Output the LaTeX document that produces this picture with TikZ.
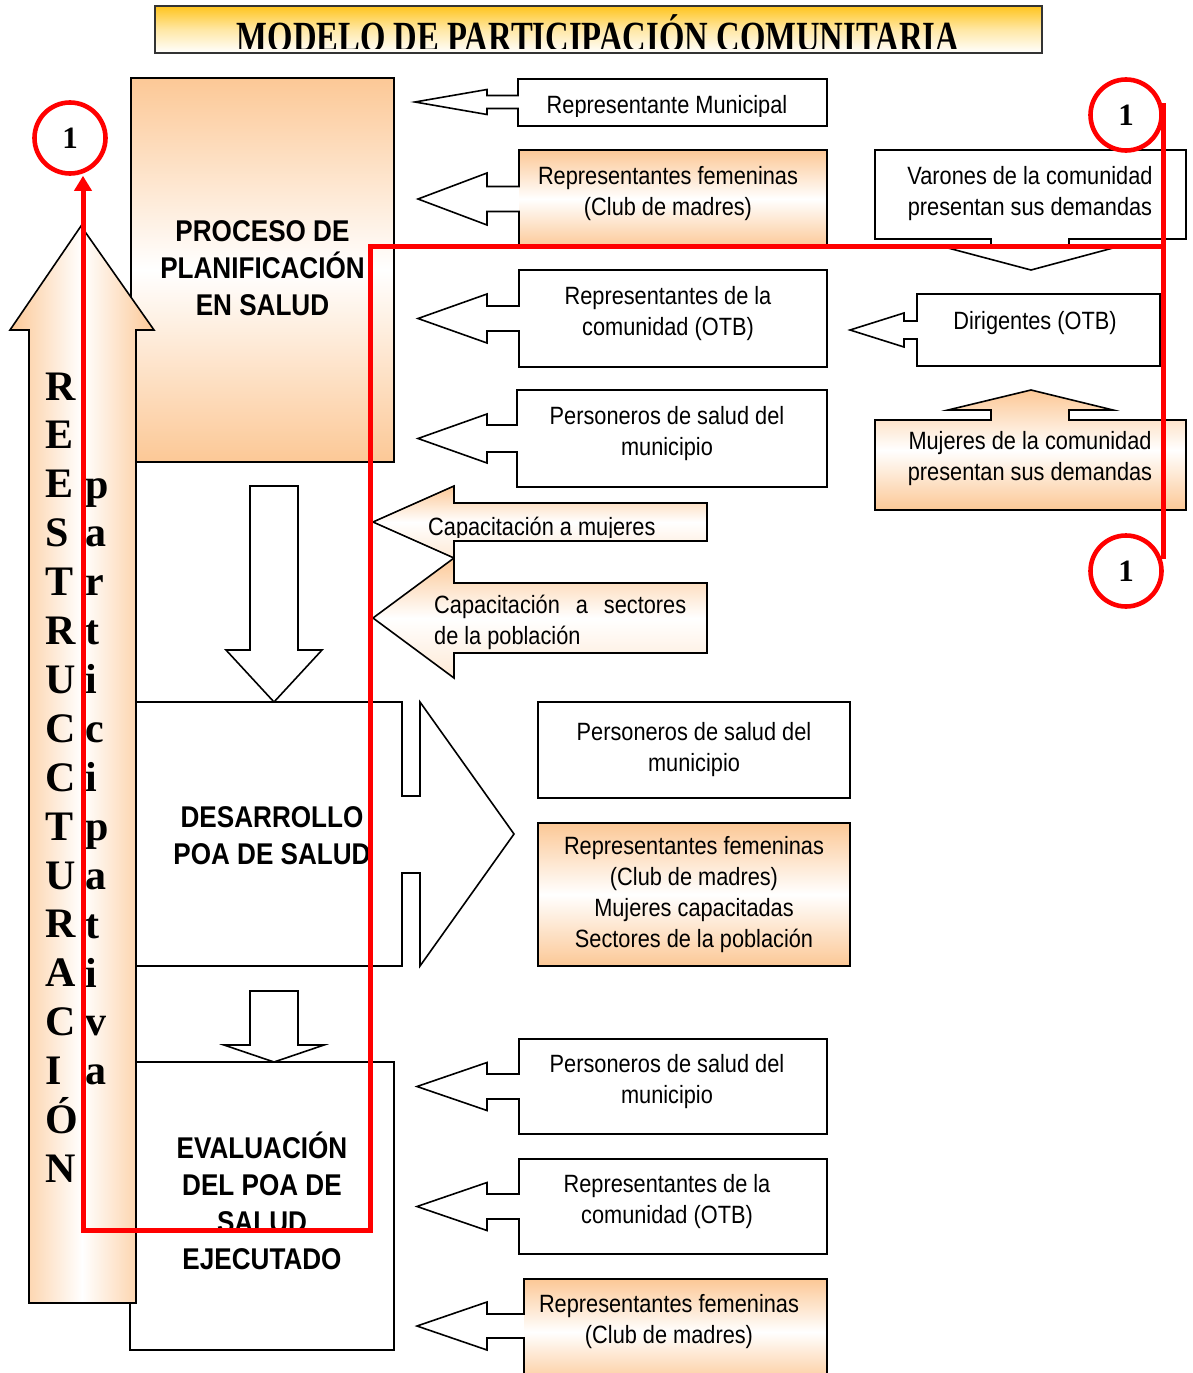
\documentclass[tikz,border=0pt]{standalone}
\usepackage{fontspec}
\usetikzlibrary{arrows.meta}
\newfontfamily\nar[FakeStretch=0.87]{Liberation Sans}
\newfontfamily\ser{Liberation Serif}
\newfontfamily\ttl[FakeStretch=0.76]{Liberation Serif}
\definecolor{peach}{RGB}{252,200,150}
\definecolor{gold}{RGB}{255,196,30}
\definecolor{redl}{RGB}{255,0,0}
\tikzset{
  outl/.style={draw=black, line width=1.6pt, line join=miter},
  lbl/.style={font=\nar\fontsize{25}{31}\selectfont, align=center, inner sep=0pt},
  bl/.style={font=\nar\bfseries\fontsize{30}{37}\selectfont, align=center, inner sep=0pt},
  vl/.style={font=\ser\bfseries\fontsize{42}{42}\selectfont, inner sep=0pt, anchor=base west},
  circ/.style={circle, draw=redl, line width=4.6pt, minimum size=71pt, inner sep=0pt, font=\ser\bfseries\fontsize{31}{31}\selectfont},
  redline/.style={draw=redl, line width=5pt},
  peachv/.style={top color=peach, bottom color=peach, middle color=white},
  cfill/.style={fill=white}
}
% callout: #1 tip x, #2 head back x, #3 box left, #4 box right, #5 top, #6 bottom, #7 centre y, #8 head half, #9 shaft half
\newcommand\callout[9]{%
  \fill[white] (#4,#5) -- ({#3+1.5},#5) -- ({#3+1.5},{#7-#9}) -- (#2,{#7-#9}) -- (#2,{#7-#8}) -- (#1,#7) -- (#2,{#7+#8}) -- (#2,{#7+#9}) -- ({#3+1.5},{#7+#9}) -- ({#3+1.5},#6) -- (#4,#6) -- cycle;
  \path[cfill] (#3,#5) rectangle (#4,#6);
  \draw[outl] (#4,#5) -- (#3,#5) -- (#3,{#7-#9}) -- (#2,{#7-#9}) -- (#2,{#7-#8}) -- (#1,#7) -- (#2,{#7+#8}) -- (#2,{#7+#9}) -- (#3,{#7+#9}) -- (#3,#6) -- (#4,#6) -- cycle;}
\begin{document}
\begin{tikzpicture}[x=1pt, y=-1pt]
\useasboundingbox (0,0) rectangle (1192,1373);
\fill[white] (0,0) rectangle (1192,1373);

% ---- title
\path[top color=gold, bottom color=white, middle color=gold!40!white] (155,6) rectangle (1042,53);
\draw[draw=black!80, line width=1.6pt] (155,6) rectangle (1042,53);
\begin{scope}
  \clip (156,7) rectangle (1041,48);
  \node[font=\ttl\bfseries\fontsize{43}{43}\selectfont, inner sep=0pt, anchor=base] (title) at (598,51) {MODELO DE PARTICIPACIÓN COMUNITARIA};
\end{scope}

% ---- left column of process boxes
\node[draw=black, line width=1.6pt, peachv, minimum width=263pt, minimum height=384pt] (b1) at (262.5,270) {};
\node[bl] (b1t) at (262.5,268) {PROCESO DE\\PLANIFICACIÓN\\EN SALUD};

\draw[outl, fill=white] (250,486) -- (298,486) -- (298,650) -- (322,650) -- (274,702) -- (226,650) -- (250,650) -- cycle;

\draw[outl, fill=white] (136,702) -- (402,702) -- (402,796) -- (420,796) -- (420,702) -- (514,834) -- (420,966) -- (420,873) -- (402,873) -- (402,966) -- (136,966) -- cycle;
\node[bl] (b2) at (272,836) {DESARROLLO\\POA DE SALUD};

\draw[outl, fill=white] (250,991) -- (298,991) -- (298,1045) -- (324,1045) -- (274,1062) -- (224,1045) -- (250,1045) -- cycle;

\node[draw=black, line width=1.6pt, fill=white, minimum width=264pt, minimum height=288pt] (b3) at (262,1206) {};
\node[bl] (b3t) at (262,1201) {EVALUACIÓN\\DEL POA DE\\SALUD\\EJECUTADO};

% ---- big up arrow
\path[left color=peach, right color=peach, middle color=white] (29,1303) -- (29,330) -- (10,330) -- (81,226) -- (154,330) -- (136,330) -- (136,1303) -- cycle;
\draw[outl] (29,1303) -- (29,330) -- (10,330) -- (81,226) -- (154,330) -- (136,330) -- (136,1303) -- cycle;
\foreach \l [count=\i] in {R,E,E,S,T,R,U,C,C,T,U,R,A,C,I,Ó,N}
  \node[vl] (ra\i) at (45,{400+(\i-1)*48.9}) {\l};
\foreach \l [count=\i] in {p,a,r,t,i,c,i,p,a,t,i,v,a}
  \node[vl] (pa\i) at (85,{498+(\i-1)*48.9}) {\l};

% ---- callouts pointing to planning box
\callout{415}{487}{518}{827}{79}{126}{102}{12.5}{6.5}
\begin{scope}
  \clip (520,80) rectangle (826,116);
  \node[lbl, anchor=base] (m1) at (667,113) {Representante Municipal};
\end{scope}
\begin{scope}[cfill/.style={peachv}]
\callout{418}{487}{519}{827}{150}{248}{199}{26}{12.5}
\end{scope}
\node[lbl] (m2) at (668,194) {Representantes femeninas\\(Club de madres)};
\callout{418}{487}{519}{827}{270}{367}{318.5}{24.5}{12.5}
\node[lbl] (m3) at (668,314) {Representantes de la\\comunidad (OTB)};
\callout{418}{487}{517}{827}{390}{487}{438.5}{24.5}{13.5}
\node[lbl] (m4) at (667,434) {Personeros de salud del\\municipio};

% ---- right side demands
\draw[outl, fill=white] (875,150) -- (1186,150) -- (1186,239) -- (1069,239) -- (1069,248) -- (1113,248) -- (1031,270) -- (948,248) -- (991,248) -- (991,239) -- (875,239) -- cycle;
\node[lbl] (v1) at (1030,194) {Varones de la comunidad\\presentan sus demandas};
\callout{850}{904}{917}{1160}{294}{366}{330}{17}{9}
\node[lbl] (d1) at (1035,323) {Dirigentes (OTB)};
\path[peachv] (875,420) -- (991,420) -- (991,410) -- (948,410) -- (1031,390) -- (1113,410) -- (1069,410) -- (1069,420) -- (1186,420) -- (1186,510) -- (875,510) -- cycle;
\draw[outl] (875,420) -- (991,420) -- (991,410) -- (948,410) -- (1031,390) -- (1113,410) -- (1069,410) -- (1069,420) -- (1186,420) -- (1186,510) -- (875,510) -- cycle;
\node[lbl] (w1) at (1030,459) {Mujeres de la comunidad\\presentan sus demandas};

% ---- training arrows
\draw[outl, top color=peach, bottom color=peach!40, middle color=white] (707,503) -- (454,503) -- (454,486) -- (373,522) -- (454,558) -- (454,541) -- (707,541) -- cycle;
\begin{scope}
  \clip (380,505) rectangle (705,537);
  \node[lbl, anchor=base west] (k1) at (428,535) {Capacitación a mujeres};
\end{scope}
\draw[outl, top color=peach, bottom color=peach!40, middle color=white] (707,583) -- (454,583) -- (454,558) -- (373,618) -- (454,678) -- (454,653) -- (707,653) -- cycle;
\node[lbl, align=left, anchor=west] (k2) at (434,622) {\hbox to 252pt{Capacitación\hfill a\hfill sectores}\\de la población};

% ---- development participants
\node[draw=black, line width=1.6pt, fill=white, minimum width=312pt, minimum height=96pt, lbl] (p1) at (694,750) {Personeros de salud del\\municipio};
\node[draw=black, line width=1.6pt, peachv, minimum width=312pt, minimum height=143pt, lbl] (p2) at (694,894.5) {Representantes femeninas\\(Club de madres)\\Mujeres capacitadas\\Sectores de la población};

% ---- evaluation participants
\callout{417}{487}{519}{827}{1039}{1134}{1086.5}{24}{12.5}
\node[lbl] (e1) at (667,1082) {Personeros de salud del\\municipio};
\callout{417}{487}{519}{827}{1159}{1254}{1206.5}{24}{12.5}
\node[lbl] (e2) at (667,1202) {Representantes de la\\comunidad (OTB)};
\begin{scope}[cfill/.style={peachv}]
\callout{417}{487}{524}{827}{1279}{1385}{1326}{24}{12}
\end{scope}
\node[lbl] (e3) at (669,1322) {Representantes femeninas\\(Club de madres)};

% ---- circles and red connector
\node[circ, fill=white] (cL) at (70,138) {1};
\node[circ, fill=white] (cTR) at (1126,115) {1};
\node[circ, fill=white] (cBR) at (1126,571) {1};
\draw[redline] ([yshift=12pt]cTR.east) -- ([yshift=12pt]cBR.east);
\draw[redline, -{Triangle[length=15pt, width=17pt]}] (cTR.east |- 0,246) -- (370,246) -- (370,1230) -- (83,1230) -- (83,1230 |- cL.south);
\end{tikzpicture}
\end{document}
